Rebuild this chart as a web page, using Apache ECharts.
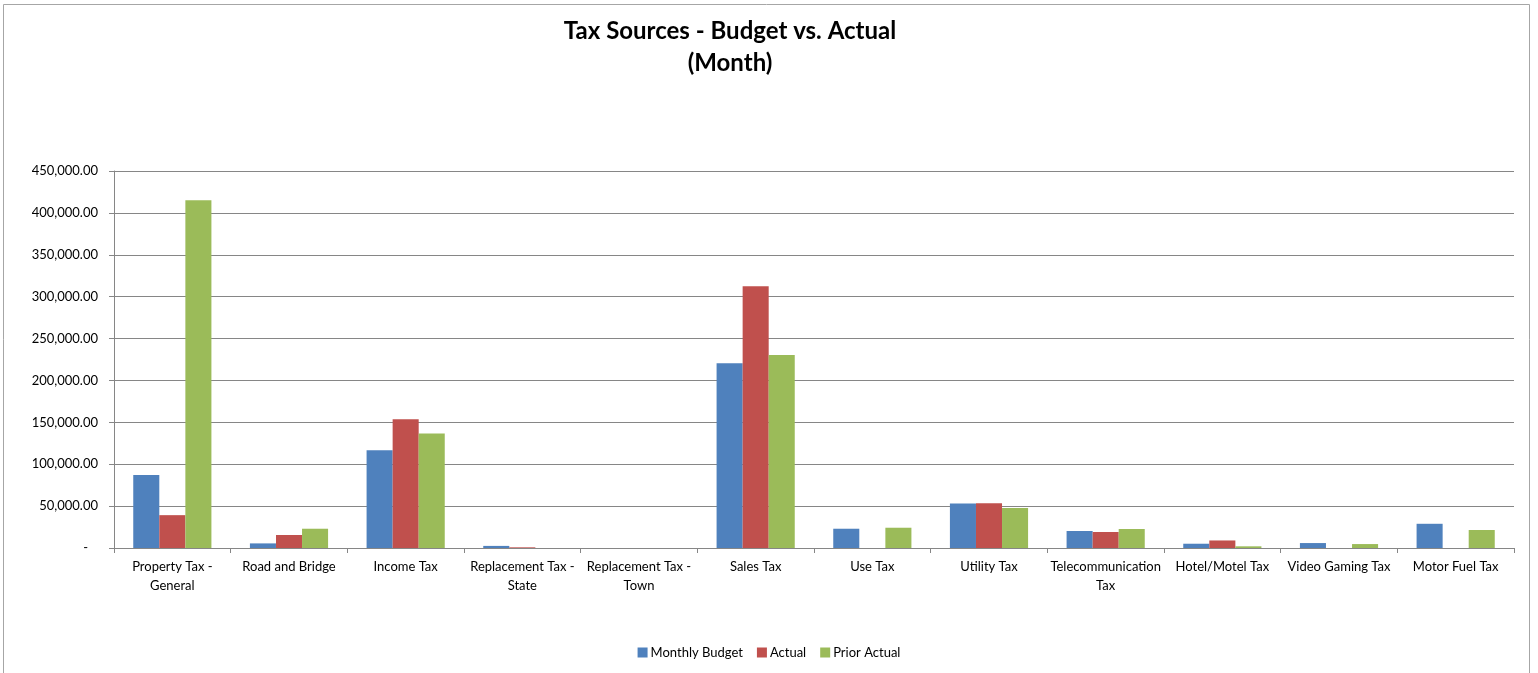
<!DOCTYPE html>
<html>
<head>
<meta charset="utf-8">
<script src="https://cdn.jsdelivr.net/npm/echarts@6/dist/echarts.min.js"></script>
<style>
  html, body { margin: 0; padding: 0; background: #fff; }
  #main { width: 1538px; height: 673px; }
</style>
</head>
<body>
<div id="main"></div>
<script>
// categories and values
var categories = [
  'Property Tax -\nGeneral', 'Road and Bridge', 'Income Tax', 'Replacement Tax -\nState',
  'Replacement Tax -\nTown', 'Sales Tax', 'Use Tax', 'Utility Tax',
  'Telecommunication\nTax', 'Hotel/Motel Tax', 'Video Gaming Tax', 'Motor Fuel Tax'
];
var monthlyBudget = [87000, 5500, 116700, 2500, 0, 220500, 23000, 53100, 20300, 5100, 5900, 28900];
var actual        = [39200, 15500, 153600, 800, 0, 312300, 0, 53500, 19100, 9000, 0, 0];
var priorActual   = [415200, 23000, 136600, 0, 0, 230400, 24200, 47700, 22700, 2000, 4700, 21500];
var seriesNames = ['Monthly Budget', 'Actual', 'Prior Actual'];

var myChart = echarts.init(document.getElementById('main'));
var font = 'Lato, "Open Sans", sans-serif';

function money(v) {
  if (v === 0) return '-   ';
  return v.toLocaleString('en-US', { minimumFractionDigits: 2, maximumFractionDigits: 2 });
}

var option = {
  backgroundColor: '#fff',
  color: ['#4F81BD', '#C0504D', '#9BBB59'],
  textStyle: { fontFamily: font },
  title: {
    text: 'Tax Sources - Budget vs. Actual\n(Month)',
    left: 725,
    top: 10,
    textAlign: 'center',
    textStyle: { fontFamily: font, fontSize: 24, fontWeight: 'bold', color: '#000', lineHeight: 32 }
  },
  graphic: [{
    type: 'rect',
    shape: { x: 3.5, y: 4.5, width: 1526, height: 700 },
    style: { fill: 'none', stroke: '#A6A6A6', lineWidth: 1 },
    silent: true
  }],
  legend: {
    data: seriesNames,
    bottom: 9,
    left: 'center',
    itemWidth: 10,
    itemHeight: 10,
    itemGap: 14,
    icon: 'rect',
    textStyle: { fontFamily: font, fontSize: 13, color: '#000', padding: [0, 0, 0, -2] }
  },
  grid: { left: 114, right: 24, top: 171, bottom: 125 },
  xAxis: {
    type: 'category',
    data: categories,
    axisLine: { lineStyle: { color: '#868686' } },
    axisTick: { show: true, length: 5, lineStyle: { color: '#868686' } },
    axisLabel: { interval: 0, color: '#000', fontSize: 13, lineHeight: 19, margin: 9, fontFamily: font }
  },
  yAxis: {
    type: 'value',
    min: 0,
    max: 450000,
    interval: 50000,
    axisLine: { show: true, lineStyle: { color: '#868686' } },
    axisTick: { show: true, length: 5, lineStyle: { color: '#868686' } },
    splitLine: { lineStyle: { color: '#868686' } },
    axisLabel: { color: '#000', fontSize: 13, margin: 16, fontFamily: font, formatter: money }
  },
  series: [
    { name: seriesNames[0], type: 'bar', data: monthlyBudget, barGap: '0%', barCategoryGap: '33%' },
    { name: seriesNames[1], type: 'bar', data: actual, barGap: '0%', barCategoryGap: '33%' },
    { name: seriesNames[2], type: 'bar', data: priorActual, barGap: '0%', barCategoryGap: '33%' }
  ]
};

myChart.setOption(option);
</script>
</body>
</html>
